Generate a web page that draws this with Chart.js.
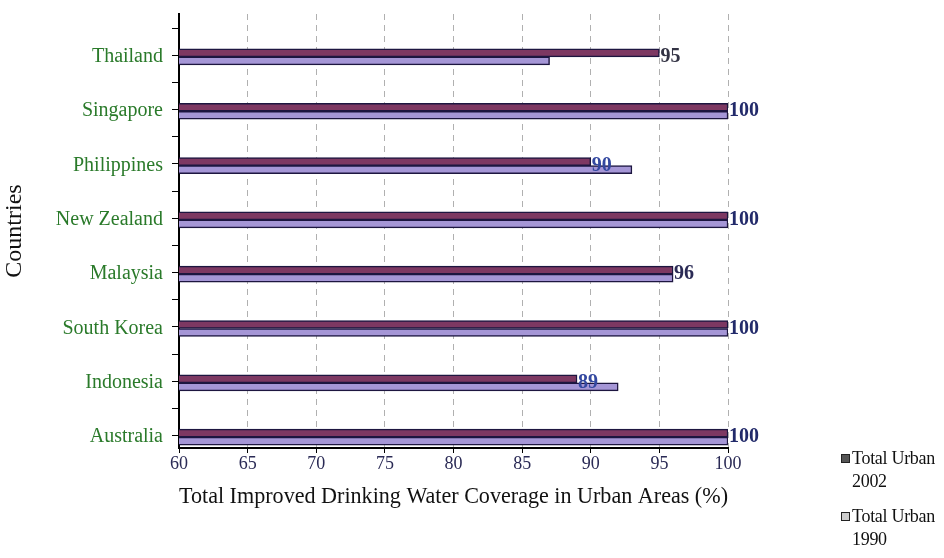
<!DOCTYPE html>
<html>
<head>
<meta charset="utf-8">
<script src="https://cdn.jsdelivr.net/npm/chart.js@4"></script>
<style>
  body { margin: 0; background: #fff; }
  #wrap { position: relative; width: 944px; height: 558px; }
  #legend { position: absolute; left: 841px; top: 447px; font: 18px "Liberation Serif", serif; color: #111; line-height: 23px; }
  .item { position: relative; padding-left: 11px; margin-bottom: 12px; letter-spacing: -0.3px; }
  .sw { position: absolute; left: 0; top: 7px; width: 7px; height: 7px; border: 1px solid #222; }
</style>
</head>
<body>
<div id="wrap">
  <canvas id="chart" width="944" height="558"></canvas>
  <div id="legend"></div>
</div>
<script>
// countries top to bottom
const countries = ["Thailand", "Singapore", "Philippines", "New Zealand", "Malaysia", "South Korea", "Indonesia", "Australia"];
const urban2002 = [95, 100, 90, 100, 96, 100, 89, 100];
const urban1990 = [87, 100, 93, 100, 96, 100, 92, 100];
const xTicks = [60, 65, 70, 75, 80, 85, 90, 95, 100];
const labelColors = ["#333344", "#222a6a", "#3348a0", "#222a6a", "#2a2a55", "#222a6a", "#3348a0", "#222a6a"];

const toPoints = (vals) => vals.map((v, i) => ({ x: v, y: i }));

// value labels for the 2002 series, drawn at the end of the bar
const valueLabels = {
  id: "valueLabels",
  afterDatasetsDraw(chart) {
    const ctx = chart.ctx;
    const meta = chart.getDatasetMeta(0);
    ctx.save();
    ctx.font = "bold 20px 'Liberation Serif', serif";
    ctx.textBaseline = "middle";
    ctx.textAlign = "left";
    meta.data.forEach((bar, i) => {
      ctx.fillStyle = labelColors[i];
      ctx.fillText(urban2002[i], bar.x + 1, bar.y + 4);
    });
    ctx.restore();
  }
};

const chart = new Chart(document.getElementById("chart"), {
  type: "bar",
  data: {
    datasets: [
      {
        label: "Total Urban 2002",
        data: toPoints(urban2002),
        backgroundColor: "#7d3862",
        borderColor: "#1d1640",
        borderWidth: 1.5,
        borderSkipped: false,
        barThickness: 8
      },
      {
        label: "Total Urban 1990",
        data: toPoints(urban1990),
        backgroundColor: "#a596d6",
        borderColor: "#1d1640",
        borderWidth: 1.5,
        borderSkipped: false,
        barThickness: 8
      }
    ]
  },
  options: {
    indexAxis: "y",
    responsive: false,
    animation: false,
    layout: { padding: { top: 14, right: 216, bottom: 47, left: 0 } },
    plugins: { legend: { display: false }, tooltip: { enabled: false } },
    scales: {
      x: {
        type: "linear",
        min: 60,
        max: 100,
        afterBuildTicks: (s) => { s.ticks = xTicks.map((v) => ({ value: v })); },
        afterFit: (s) => { s.height = 63; },
        border: { color: "#000", width: 2, dash: [6, 5] },
        grid: { color: "#b0b0b0", tickColor: "#000", tickLength: 5, tickBorderDash: [] },
        ticks: { color: "#2a2a55", font: { family: "'Liberation Serif', serif", size: 18 }, padding: 0 },
        title: { display: true, text: "Total Improved Drinking Water Coverage in Urban Areas (%)", color: "#111", font: { family: "'Liberation Serif', serif", size: 24 }, padding: { top: 4, bottom: 0 } }
      },
      y: {
        type: "linear",
        reverse: true,
        offset: false,
        min: -0.79,
        max: 7.2,
        afterBuildTicks: (s) => {
          const t = [];
          countries.forEach((c, i) => { t.push({ value: i - 0.28 }); t.push({ value: i + 0.22, label: c }); });
          s.ticks = t;
        },
        afterFit: (s) => { s.width = 179; s.paddingTop = 0; s.paddingBottom = 0; },
        border: { color: "#000", width: 2 },
        grid: { drawOnChartArea: false, tickColor: "#000", tickLength: 7 },
        ticks: {
          color: "#2a7a2a",
          font: { family: "'Liberation Serif', serif", size: 20 },
          labelOffset: -12,
          padding: 9,
          callback: function (v, idx, ticks) { return ticks[idx].label || ""; }
        },
        title: { display: true, text: "Countries", color: "#111", font: { family: "'Liberation Serif', serif", size: 24 }, padding: { top: 0 } }
      }
    }
  },
  plugins: [valueLabels]
});

// legend beside the plot
const legend = document.getElementById("legend");
const swatches = ["#555", "#ccc"];
chart.data.datasets.forEach((ds, i) => {
  const words = ds.label.split(" ");
  const item = document.createElement("div");
  item.className = "item";
  item.innerHTML = '<span class="sw" style="background:' + swatches[i] + '"></span>' +
    words.slice(0, 2).join(" ") + "<br>" + words[2];
  legend.appendChild(item);
});
</script>
</body>
</html>
